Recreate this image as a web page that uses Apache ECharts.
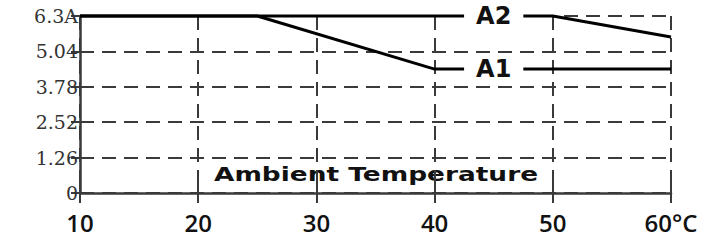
<!DOCTYPE html>
<html>
<head>
    <meta charset="utf-8">
    <script src="https://cdn.jsdelivr.net/npm/echarts@6/dist/echarts.min.js"></script>
    <style>
        html, body { margin: 0; padding: 0; background: #fff; }
    </style>
</head>
<body>
<div id="main" style="width: 712px;height:241px;"></div>

<script type="text/javascript">
    // 数据
    var xTickLabels = ['10', '20', '30', '40', '50', '60°C'];
    var yTickLabels = ['0', '1.26', '2.52', '3.78', '5.04', '6.3A'];
    var a1Temp = [10, 25, 40, 60];
    var a1Amp = [6.3, 6.3, 4.41, 4.41];
    var a2Temp = [10, 50, 60];
    var a2Amp = [6.3, 6.3, 5.55];
    var labelTemp = 45;

    function pairs(xs, ys) {
        var out = [];
        for (var i = 0; i < xs.length; i++) out.push([xs[i], ys[i]]);
        return out;
    }

    var dashed = { color: '#3a3a3a', width: 2, type: [14, 8] };

    function curveLabel(name, amp) {
        return {
            symbol: 'circle',
            symbolSize: 0,
            silent: true,
            data: [{
                coord: [labelTemp, amp],
                label: {
                    show: true,
                    position: 'inside',
                    formatter: name,
                    fontFamily: 'DejaVu Sans',
                    fontWeight: 'bold',
                    fontSize: 24,
                    color: '#111',
                    backgroundColor: '#fff',
                    padding: [2, 12, 0, 12]
                }
            }]
        };
    }

    var myChart = echarts.init(document.getElementById('main'), null, { renderer: 'svg' });

    myChart.setOption({
        animation: false,
        backgroundColor: '#fff',
        grid: { left: 80, right: 41, top: 16, bottom: 48 },
        xAxis: [{
            type: 'value',
            min: 10,
            max: 60,
            interval: 10,
            axisLine: { show: true, lineStyle: { color: '#3a3a3a', width: 2.5 } },
            axisTick: { show: true, length: 10, lineStyle: { color: '#3a3a3a', width: 2 } },
            axisLabel: {
                margin: 17,
                fontFamily: 'Open Sans',
                fontWeight: 600,
                fontSize: 24,
                color: '#111',
                formatter: function (v) { return xTickLabels[Math.round((v - 10) / 10)]; }
            },
            splitLine: { show: true, lineStyle: dashed }
        }, {
            type: 'value',
            position: 'bottom',
            min: 10,
            max: 60,
            interval: 10,
            axisLine: { show: false },
            axisTick: { show: true, inside: true, length: 10, lineStyle: { color: '#3a3a3a', width: 2 } },
            axisLabel: { show: false },
            splitLine: { show: false }
        }],
        yAxis: {
            type: 'value',
            min: 0,
            max: 6.3,
            interval: 1.26,
            axisLine: { show: true, lineStyle: { color: '#3a3a3a', width: 2.5 } },
            axisTick: { show: true, length: 9, lineStyle: { color: '#3a3a3a', width: 2 } },
            axisLabel: {
                margin: 2,
                fontFamily: 'DejaVu Serif',
                fontSize: 19,
                color: '#333',
                formatter: function (v) { return yTickLabels[Math.round(v / 1.26)]; }
            },
            splitLine: { show: true, lineStyle: dashed }
        },
        graphic: [{
            type: 'text',
            x: 376,
            y: 174,
            scaleX: 1.32,
            style: {
                text: 'Ambient Temperature',
                x: 0,
                y: 0,
                align: 'center',
                verticalAlign: 'middle',
                fontFamily: 'DejaVu Sans',
                fontWeight: 'bold',
                fontSize: 20,
                fill: '#111'
            }
        }],
        series: [{
            name: 'A1',
            type: 'line',
            clip: false,
            symbol: 'none',
            data: pairs(a1Temp, a1Amp),
            lineStyle: { color: '#000', width: 3 },
            markPoint: curveLabel('A1', a1Amp[a1Amp.length - 1]),
            z: 3
        }, {
            name: 'A2',
            type: 'line',
            clip: false,
            symbol: 'none',
            data: pairs(a2Temp, a2Amp),
            lineStyle: { color: '#000', width: 3 },
            markPoint: curveLabel('A2', a2Amp[0]),
            z: 4
        }]
    });
</script>

</body>
</html>
